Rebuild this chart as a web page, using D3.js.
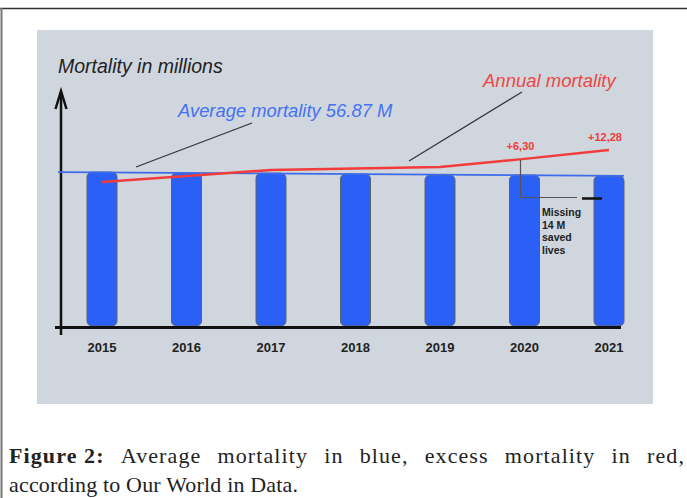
<!DOCTYPE html>
<html>
<head>
<meta charset="utf-8">
<script src="https://cdn.jsdelivr.net/npm/d3@7/dist/d3.min.js"></script>
<style>
  html, body { margin: 0; padding: 0; background: #fff; }
  svg { display: block; }
</style>
</head>
<body>
<script>
// ---- data (millions) ----
const years = ["2015", "2016", "2017", "2018", "2019", "2020", "2021"];
const averageMortality = [57.0, 56.7, 56.6, 56.3, 55.9, 55.9, 55.6];
const annualMortality = [53.3, 55.6, 57.8, 58.3, 58.9, 61.9, 65.2];
const excessLabels = [null, null, null, null, null, "+6,30", "+12,28"];
const averageLine = [57.0, 55.6];
const yAxisTitle = "Mortality in millions";
const averageLabel = "Average mortality 56.87 M";
const annualLabel = "Annual mortality";
const missingNote = ["Missing", "14 M", "saved", "lives"];
const captionBold = "Figure 2:";
const captionLine1 = "Average mortality in blue, excess mortality in red,";
const captionLine2 = "according to Our World in Data.";

const W = 687, H = 498;
const svg = d3.select("body").append("svg").attr("width", W).attr("height", H);

// outer frame
svg.append("line").attr("x1", 0).attr("x2", W).attr("y1", 8.5).attr("y2", 8.5)
  .attr("stroke", "#333").attr("stroke-width", 1.5);
svg.append("line").attr("x1", 1.5).attr("x2", 1.5).attr("y1", 8).attr("y2", H)
  .attr("stroke", "#777").attr("stroke-width", 2);

// panel
svg.append("rect").attr("x", 37).attr("y", 30).attr("width", 616).attr("height", 374)
  .attr("fill", "#cfd6dd");

const font = "'Liberation Sans', Arial, sans-serif";

// scales
const x = d3.scaleBand().domain(years).range([61.65, 649.35]).paddingInner(0.645).paddingOuter(0.3);
const y = d3.scaleLinear().domain([0, 60]).range([326, 164]);

// bars
svg.append("g").selectAll("rect").data(years).join("rect")
  .attr("x", d => x(d))
  .attr("y", (d, i) => y(averageMortality[i]))
  .attr("width", x.bandwidth())
  .attr("height", (d, i) => y(0) - y(averageMortality[i]))
  .attr("rx", 5).attr("ry", 5)
  .attr("fill", "#2b60f7").attr("stroke", "#5a6270").attr("stroke-width", 1);

// axes
svg.append("line").attr("x1", 55).attr("x2", 621).attr("y1", 327.5).attr("y2", 327.5)
  .attr("stroke", "#111").attr("stroke-width", 3);
svg.append("line").attr("x1", 61).attr("x2", 61).attr("y1", 92).attr("y2", 335)
  .attr("stroke", "#111").attr("stroke-width", 2.5);
svg.append("path").attr("d", "M55.5,109 L61,91 L66.5,109")
  .attr("fill", "none").attr("stroke", "#111").attr("stroke-width", 2.5);

// x tick labels
const xAxis = d3.axisBottom(x).tickSize(0).tickPadding(0);
const gx = svg.append("g").attr("transform", "translate(0,343)").call(xAxis);
gx.select(".domain").remove();
gx.selectAll("text").attr("font-family", font).attr("font-size", 13)
  .attr("font-weight", "bold").attr("fill", "#222").attr("dy", "0.71em");

// average line
svg.append("line")
  .attr("x1", 58).attr("x2", x("2021") + x.bandwidth())
  .attr("y1", y(averageLine[0])).attr("y2", y(averageLine[1]))
  .attr("stroke", "#3d6bea").attr("stroke-width", 1.6);

// annual line
const line = d3.line().x((d, i) => x(years[i]) + x.bandwidth() / 2).y(d => y(d));
svg.append("path").datum(annualMortality).attr("d", line)
  .attr("fill", "none").attr("stroke", "#f23b3b").attr("stroke-width", 2.5);

// excess labels
svg.append("g").selectAll("text").data(years.filter((d, i) => excessLabels[i])).join("text")
  .attr("x", d => x(d) + x.bandwidth() / 2 - 4)
  .attr("y", d => y(annualMortality[years.indexOf(d)]) - 8.5)
  .attr("text-anchor", "middle")
  .attr("font-family", font).attr("font-size", 11).attr("font-weight", "bold")
  .attr("fill", "#f03c3c")
  .text(d => excessLabels[years.indexOf(d)]);

// titles
svg.append("text").attr("x", 58).attr("y", 73).attr("font-family", font)
  .attr("font-size", 19.5).attr("font-style", "italic").attr("fill", "#222").text(yAxisTitle);
svg.append("text").attr("x", 178).attr("y", 117).attr("font-family", font)
  .attr("font-size", 18.4).attr("font-style", "italic").attr("fill", "#4472f2").text(averageLabel);
svg.append("text").attr("x", 483).attr("y", 87).attr("font-family", font)
  .attr("font-size", 18.5).attr("font-style", "italic").attr("fill", "#f04646").text(annualLabel);

// leader lines
svg.append("line").attr("x1", 136).attr("y1", 167).attr("x2", 252).attr("y2", 123)
  .attr("stroke", "#333").attr("stroke-width", 1.2);
svg.append("line").attr("x1", 409).attr("y1", 161).attr("x2", 522).attr("y2", 92)
  .attr("stroke", "#333").attr("stroke-width", 1.2);

// missing annotation
const cx2020 = x("2020") + x.bandwidth() / 2 - 4;
svg.append("path")
  .attr("d", `M${cx2020},${y(annualMortality[5]) + 1} V197.5 H577`)
  .attr("fill", "none").attr("stroke", "#555").attr("stroke-width", 1.2);
svg.append("line").attr("x1", 582).attr("x2", 602).attr("y1", 198.5).attr("y2", 198.5)
  .attr("stroke", "#111").attr("stroke-width", 2.5);
svg.append("g").selectAll("text").data(missingNote).join("text")
  .attr("x", 542).attr("y", (d, i) => 216 + i * 12.5)
  .attr("font-family", font).attr("font-size", 10.5).attr("font-weight", "bold")
  .attr("fill", "#222").text(d => d);

// caption (justified first line)
const serif = "'Liberation Serif', 'DejaVu Serif', serif";
const capSize = 22;
const words1 = [{t: captionBold, b: true}].concat(captionLine1.split(" ").map(t => ({t, b: false})));
const cap = svg.append("g");
const nodes = words1.map(w => cap.append("text").attr("y", 463)
  .attr("font-family", serif).attr("font-size", capSize)
  .attr("letter-spacing", 1.1)
  .attr("font-weight", w.b ? "bold" : "normal").attr("fill", "#222").text(w.t));
const widths = nodes.map(n => n.node().getComputedTextLength());
const left = 9, right = 685;
const total = d3.sum(widths);
const gap = (right - left - total) / (nodes.length - 1);
let cx = left;
nodes.forEach((n, i) => { n.attr("x", cx); cx += widths[i] + gap; });
cap.append("text").attr("x", left).attr("y", 492)
  .attr("font-family", serif).attr("font-size", capSize).attr("fill", "#222")
  .attr("textLength", 289).attr("lengthAdjust", "spacing").text(captionLine2);
</script>
</body>
</html>
